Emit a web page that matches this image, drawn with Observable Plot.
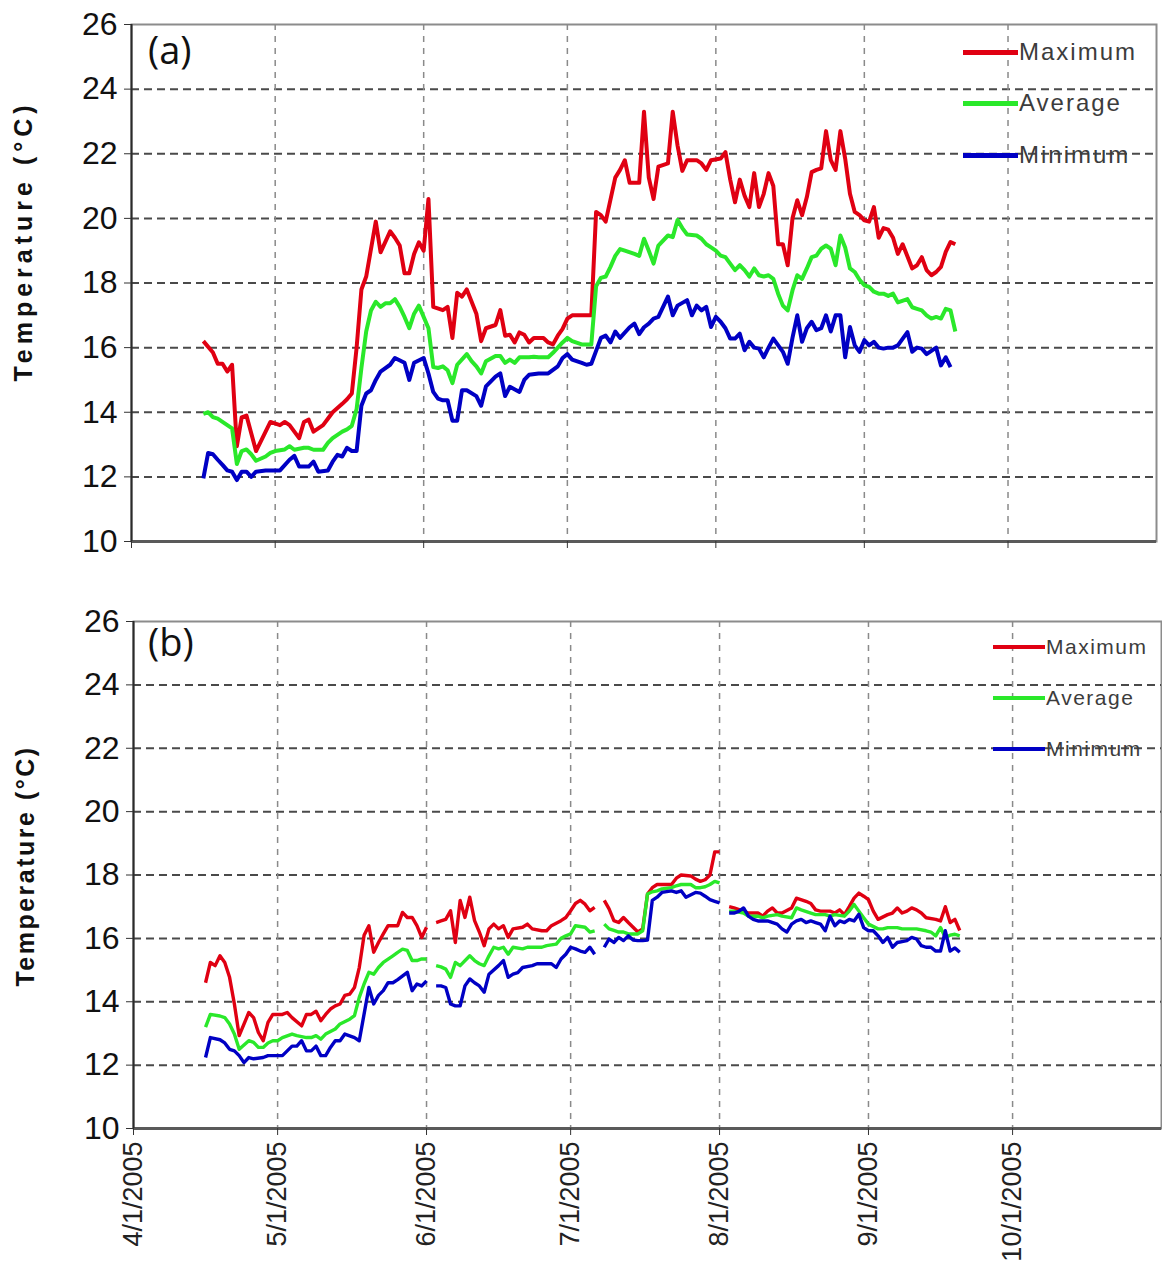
<!DOCTYPE html>
<html>
<head>
<meta charset="utf-8">
<script src="https://cdn.jsdelivr.net/npm/d3@7"></script>
<script src="https://cdn.jsdelivr.net/npm/@observablehq/plot@0.6"></script>
<style>
  html, body { margin: 0; padding: 0; background: #fff; }
  #root { position: relative; width: 1162px; height: 1287px; overflow: hidden; background: #fff; }
  .panel { position: absolute; left: 0; }
  .legend-row { position: absolute; display: flex; align-items: center; white-space: nowrap;
    font-family: "Liberation Sans", Arial, sans-serif; color: #3c3c3c; }
  .swatch { display: inline-block; }
  .tag { position: absolute; font-family: "Open Sans", "Liberation Sans", sans-serif; color: #111; line-height: 1; }
</style>
</head>
<body>
<div id="root"></div>
<script>
// ---------- labels / categories ----------
const seriesNames = ["Maximum", "Average", "Minimum"];
const seriesColors = ["#e00012", "#2ae82a", "#0000c4"];
const yTicks = [10, 12, 14, 16, 18, 20, 22, 24, 26];
const yGrid = [12, 14, 16, 18, 20, 22, 24];
const monthTicks = ["04-01", "05-01", "06-01", "07-01", "08-01", "09-01", "10-01"];
const xEndLabel = "11-01";
const yTitle = "Temperature (°C)";
const panelTags = ["(a)", "(b)"];

// ---------- panel (a) series: [month-day, °C] ----------
const aMax = [["04-16",16.2],["04-18",15.85],["04-19",15.5],["04-20",15.5],["04-21",15.26],["04-22",15.47],["04-23",12.95],["04-24",13.84],["04-25",13.9],["04-27",12.8],["04-29",13.4],["04-30",13.7],["05-02",13.6],["05-03",13.7],["05-04",13.6],["05-06",13.2],["05-07",13.7],["05-08",13.77],["05-09",13.4],["05-11",13.6],["05-12",13.8],["05-13",14.0],["05-15",14.26],["05-16",14.4],["05-17",14.58],["05-18",16.0],["05-19",17.8],["05-20",18.2],["05-22",19.9],["05-23",18.95],["05-25",19.6],["05-26",19.4],["05-27",19.16],["05-28",18.3],["05-29",18.3],["05-30",18.9],["05-31",19.26],["06-01",19.0],["06-02",20.6],["06-03",17.26],["06-05",17.16],["06-06",17.26],["06-07",16.3],["06-08",17.7],["06-09",17.58],["06-10",17.8],["06-12",17.05],["06-13",16.2],["06-14",16.6],["06-16",16.7],["06-17",17.16],["06-18",16.37],["06-19",16.4],["06-20",16.16],["06-21",16.47],["06-22",16.4],["06-23",16.16],["06-24",16.3],["06-26",16.3],["06-27",16.16],["06-28",16.1],["06-29",16.37],["06-30",16.58],["07-01",16.9],["07-02",17.0],["07-04",17.0],["07-06",17.0],["07-07",20.2],["07-08",20.1],["07-09",19.9],["07-11",21.26],["07-12",21.5],["07-13",21.8],["07-14",21.1],["07-15",21.1],["07-16",21.1],["07-17",23.3],["07-18",21.26],["07-19",20.6],["07-20",21.6],["07-22",21.7],["07-23",23.3],["07-24",22.26],["07-25",21.47],["07-26",21.8],["07-28",21.8],["07-29",21.7],["07-30",21.5],["07-31",21.8],["08-02",21.85],["08-03",22.05],["08-04",21.2],["08-05",20.5],["08-06",21.2],["08-07",20.7],["08-08",20.35],["08-09",21.4],["08-10",20.35],["08-11",20.76],["08-12",21.4],["08-13",21.0],["08-14",19.2],["08-15",19.2],["08-16",18.55],["08-17",20.0],["08-18",20.56],["08-19",20.1],["08-20",20.66],["08-21",21.43],["08-22",21.5],["08-23",21.55],["08-24",22.7],["08-25",21.8],["08-26",21.5],["08-27",22.7],["08-28",21.85],["08-29",20.76],["08-30",20.2],["08-31",20.1],["09-01",19.94],["09-02",19.9],["09-03",20.35],["09-04",19.4],["09-05",19.7],["09-06",19.65],["09-07",19.4],["09-08",18.9],["09-09",19.2],["09-11",18.45],["09-12",18.55],["09-13",18.8],["09-14",18.4],["09-15",18.24],["09-16",18.34],["09-17",18.5],["09-18",18.96],["09-19",19.27],["09-20",19.2]];

const aAvg = [["04-16",13.95],["04-17",14.0],["04-18",13.85],["04-19",13.8],["04-20",13.7],["04-21",13.6],["04-22",13.5],["04-23",12.4],["04-24",12.8],["04-25",12.85],["04-26",12.7],["04-27",12.5],["04-29",12.63],["04-30",12.74],["05-01",12.8],["05-03",12.85],["05-04",12.95],["05-05",12.84],["05-07",12.9],["05-08",12.9],["05-09",12.84],["05-11",12.84],["05-12",13.05],["05-13",13.2],["05-15",13.4],["05-16",13.47],["05-17",13.58],["05-18",14.1],["05-19",15.37],["05-20",16.5],["05-21",17.15],["05-22",17.42],["05-23",17.26],["05-24",17.37],["05-25",17.37],["05-26",17.5],["05-27",17.26],["05-28",16.95],["05-29",16.6],["05-30",17.05],["05-31",17.3],["06-02",16.6],["06-03",15.4],["06-04",15.37],["06-05",15.42],["06-06",15.3],["06-07",14.9],["06-08",15.47],["06-10",15.8],["06-11",15.58],["06-12",15.42],["06-13",15.2],["06-14",15.58],["06-16",15.74],["06-17",15.74],["06-18",15.53],["06-19",15.63],["06-20",15.53],["06-21",15.7],["06-23",15.7],["06-24",15.72],["06-25",15.7],["06-27",15.7],["06-28",15.84],["06-30",16.16],["07-01",16.3],["07-02",16.2],["07-04",16.1],["07-05",16.1],["07-06",16.1],["07-07",17.9],["07-08",18.16],["07-09",18.2],["07-10",18.5],["07-11",18.84],["07-12",19.05],["07-13",19.0],["07-15",18.9],["07-16",18.84],["07-17",19.37],["07-18",19.0],["07-19",18.6],["07-20",19.16],["07-22",19.47],["07-23",19.42],["07-24",19.95],["07-25",19.7],["07-26",19.5],["07-28",19.47],["07-29",19.37],["07-30",19.2],["07-31",19.1],["08-01",19.0],["08-02",18.85],["08-03",18.8],["08-04",18.6],["08-05",18.4],["08-06",18.55],["08-07",18.4],["08-08",18.2],["08-09",18.45],["08-10",18.24],["08-11",18.2],["08-12",18.24],["08-13",18.13],["08-14",17.67],["08-15",17.3],["08-16",17.15],["08-17",17.77],["08-18",18.24],["08-19",18.13],["08-20",18.45],["08-21",18.8],["08-22",18.85],["08-23",19.06],["08-24",19.16],["08-25",19.06],["08-26",18.55],["08-27",19.47],["08-28",19.1],["08-29",18.45],["08-30",18.34],["08-31",18.1],["09-01",17.93],["09-02",17.88],["09-03",17.73],["09-04",17.67],["09-05",17.67],["09-06",17.6],["09-07",17.67],["09-08",17.4],["09-10",17.5],["09-11",17.25],["09-12",17.2],["09-13",17.15],["09-14",17.0],["09-15",16.9],["09-16",16.95],["09-17",16.9],["09-18",17.2],["09-19",17.15],["09-20",16.5]];

const aMin = [["04-16",11.95],["04-17",12.74],["04-18",12.7],["04-19",12.53],["04-20",12.37],["04-21",12.2],["04-22",12.16],["04-23",11.9],["04-24",12.16],["04-25",12.16],["04-26",12.0],["04-27",12.16],["04-29",12.2],["04-30",12.2],["05-01",12.2],["05-02",12.2],["05-04",12.53],["05-05",12.65],["05-06",12.32],["05-08",12.32],["05-09",12.47],["05-10",12.16],["05-12",12.2],["05-13",12.47],["05-14",12.68],["05-15",12.63],["05-16",12.9],["05-17",12.8],["05-18",12.8],["05-19",14.2],["05-20",14.58],["05-21",14.68],["05-22",15.0],["05-23",15.26],["05-25",15.47],["05-26",15.68],["05-28",15.53],["05-29",15.0],["05-30",15.53],["06-01",15.68],["06-02",15.2],["06-03",14.63],["06-04",14.42],["06-05",14.37],["06-06",14.37],["06-07",13.74],["06-08",13.74],["06-09",14.68],["06-10",14.68],["06-12",14.5],["06-13",14.2],["06-14",14.8],["06-16",15.1],["06-17",15.2],["06-18",14.5],["06-19",14.79],["06-21",14.63],["06-22",15.0],["06-23",15.16],["06-25",15.2],["06-26",15.2],["06-27",15.2],["06-29",15.42],["06-30",15.68],["07-01",15.8],["07-02",15.63],["07-04",15.53],["07-05",15.47],["07-06",15.5],["07-07",15.9],["07-08",16.3],["07-09",16.37],["07-10",16.16],["07-11",16.5],["07-12",16.3],["07-14",16.63],["07-15",16.74],["07-16",16.42],["07-17",16.63],["07-18",16.74],["07-19",16.9],["07-20",16.95],["07-22",17.58],["07-23",17.0],["07-24",17.3],["07-26",17.47],["07-27",17.0],["07-28",17.3],["07-29",17.15],["07-30",17.26],["07-31",16.64],["08-01",16.95],["08-02",16.8],["08-03",16.6],["08-04",16.28],["08-05",16.28],["08-06",16.43],["08-07",15.92],["08-08",16.18],["08-09",16.0],["08-10",15.97],["08-11",15.7],["08-12",16.0],["08-13",16.28],["08-15",15.87],["08-16",15.5],["08-17",16.3],["08-18",17.0],["08-19",16.18],["08-20",16.6],["08-21",16.8],["08-22",16.54],["08-23",16.6],["08-24",17.0],["08-25",16.5],["08-26",17.0],["08-27",17.0],["08-28",15.7],["08-29",16.64],["08-30",16.07],["08-31",15.87],["09-01",16.23],["09-02",16.07],["09-03",16.18],["09-04",16.0],["09-05",15.97],["09-06",16.0],["09-07",16.0],["09-08",16.07],["09-10",16.48],["09-11",15.87],["09-12",16.0],["09-13",15.97],["09-14",15.8],["09-15",15.9],["09-16",16.0],["09-17",15.45],["09-18",15.7],["09-19",15.4]];

// ---------- panel (b) series (null = no data) ----------
const bMax = [["04-16",14.6],["04-17",15.24],["04-18",15.14],["04-19",15.45],["04-20",15.24],["04-21",14.77],["04-22",13.93],["04-23",12.93],["04-25",13.66],["04-26",13.5],["04-27",13.03],["04-28",12.77],["04-29",13.35],["04-30",13.6],["05-01",13.6],["05-02",13.6],["05-03",13.66],["05-04",13.5],["05-06",13.24],["05-07",13.6],["05-08",13.6],["05-09",13.7],["05-10",13.4],["05-11",13.6],["05-12",13.77],["05-13",13.87],["05-14",13.93],["05-15",14.2],["05-16",14.24],["05-17",14.45],["05-18",15.08],["05-19",16.1],["05-20",16.4],["05-21",15.56],["05-22",15.87],["05-23",16.14],["05-24",16.4],["05-26",16.4],["05-27",16.82],["05-28",16.66],["05-29",16.66],["05-30",16.4],["05-31",16.03],["06-01",16.35],["06-02",null],["06-03",16.5],["06-04",16.55],["06-05",16.6],["06-06",16.87],["06-07",15.87],["06-08",17.2],["06-09",16.66],["06-10",17.3],["06-11",16.56],["06-12",16.2],["06-13",15.77],["06-14",16.3],["06-15",16.45],["06-16",16.3],["06-17",16.4],["06-18",16.03],["06-19",16.3],["06-21",16.35],["06-22",16.45],["06-23",16.3],["06-25",16.24],["06-26",16.24],["06-27",16.4],["06-29",16.56],["06-30",16.66],["07-01",16.87],["07-02",17.1],["07-03",17.2],["07-04",17.08],["07-05",16.87],["07-06",16.98],["07-07",null],["07-08",17.2],["07-09",16.93],["07-10",16.56],["07-11",16.5],["07-12",16.66],["07-13",16.5],["07-14",16.35],["07-15",16.2],["07-16",16.3],["07-17",17.4],["07-18",17.6],["07-19",17.7],["07-21",17.7],["07-22",17.7],["07-23",17.9],["07-24",18.0],["07-26",17.97],["07-27",17.87],["07-28",17.8],["07-29",17.85],["07-30",18.0],["07-31",18.73],["08-01",18.73],["08-02",null],["08-03",17.0],["08-04",16.96],["08-06",16.86],["08-07",16.8],["08-09",16.8],["08-10",16.7],["08-11",16.86],["08-12",16.96],["08-13",16.8],["08-14",16.8],["08-16",16.96],["08-17",17.27],["08-19",17.17],["08-20",17.1],["08-21",16.9],["08-22",16.86],["08-24",16.86],["08-25",16.8],["08-26",16.9],["08-27",16.75],["08-28",17.0],["08-29",17.27],["08-30",17.43],["08-31",17.33],["09-01",17.22],["09-02",16.86],["09-03",16.6],["09-05",16.75],["09-06",16.8],["09-07",16.96],["09-08",16.8],["09-09",16.86],["09-10",16.96],["09-11",16.9],["09-12",16.8],["09-13",16.65],["09-15",16.6],["09-16",16.55],["09-17",17.0],["09-18",16.5],["09-19",16.6],["09-20",16.25]];

const bAvg = [["04-16",13.2],["04-17",13.6],["04-19",13.55],["04-20",13.5],["04-21",13.3],["04-22",12.98],["04-23",12.5],["04-25",12.77],["04-26",12.72],["04-27",12.56],["04-28",12.56],["04-29",12.7],["04-30",12.77],["05-01",12.77],["05-02",12.87],["05-04",12.98],["05-05",12.93],["05-07",12.87],["05-08",12.87],["05-09",12.93],["05-10",12.82],["05-11",12.98],["05-13",13.14],["05-14",13.3],["05-16",13.45],["05-17",13.56],["05-18",14.14],["05-19",14.56],["05-20",14.93],["05-21",14.87],["05-22",15.08],["05-23",15.24],["05-25",15.45],["05-26",15.56],["05-27",15.66],["05-28",15.62],["05-29",15.3],["05-30",15.3],["05-31",15.35],["06-01",15.35],["06-02",null],["06-03",15.14],["06-04",15.1],["06-05",15.03],["06-06",14.77],["06-07",15.24],["06-08",15.14],["06-10",15.45],["06-11",15.3],["06-12",15.2],["06-13",15.14],["06-14",15.45],["06-15",15.72],["06-16",15.67],["06-17",15.72],["06-18",15.5],["06-19",15.72],["06-21",15.67],["06-22",15.72],["06-24",15.72],["06-25",15.72],["06-26",15.77],["06-28",15.82],["06-29",16.0],["06-30",16.08],["07-01",16.14],["07-02",16.4],["07-04",16.35],["07-05",16.2],["07-06",16.24],["07-07",null],["07-08",16.45],["07-09",16.3],["07-10",16.25],["07-11",16.2],["07-12",16.2],["07-13",16.14],["07-15",16.14],["07-16",16.24],["07-17",17.4],["07-18",17.47],["07-19",17.5],["07-20",17.56],["07-22",17.6],["07-23",17.66],["07-24",17.7],["07-26",17.7],["07-27",17.6],["07-28",17.6],["07-29",17.63],["07-30",17.7],["07-31",17.8],["08-01",17.75],["08-02",null],["08-03",16.86],["08-04",16.86],["08-06",16.8],["08-07",16.7],["08-09",16.7],["08-10",16.65],["08-11",16.7],["08-13",16.75],["08-14",16.7],["08-16",16.65],["08-17",16.96],["08-18",16.9],["08-20",16.8],["08-21",16.75],["08-23",16.75],["08-24",16.7],["08-25",16.75],["08-27",16.7],["08-28",16.86],["08-29",17.07],["08-30",16.86],["08-31",16.65],["09-01",16.45],["09-03",16.3],["09-04",16.3],["09-05",16.34],["09-07",16.34],["09-08",16.3],["09-10",16.3],["09-11",16.3],["09-13",16.24],["09-14",16.2],["09-15",16.08],["09-16",16.34],["09-17",16.03],["09-18",16.1],["09-19",16.13],["09-20",16.08]];

const bMin = [["04-16",12.24],["04-17",12.87],["04-19",12.8],["04-20",12.7],["04-21",12.5],["04-22",12.45],["04-23",12.3],["04-24",12.08],["04-25",12.24],["04-26",12.2],["04-28",12.24],["04-29",12.3],["04-30",12.3],["05-02",12.3],["05-03",12.45],["05-04",12.6],["05-05",12.6],["05-06",12.77],["05-07",12.45],["05-08",12.45],["05-09",12.6],["05-10",12.3],["05-11",12.3],["05-12",12.56],["05-13",12.77],["05-14",12.77],["05-15",12.98],["05-17",12.87],["05-18",12.77],["05-20",14.45],["05-21",13.93],["05-22",14.2],["05-23",14.35],["05-24",14.6],["05-25",14.6],["05-26",14.7],["05-28",14.93],["05-29",14.35],["05-30",14.56],["05-31",14.5],["06-01",14.66],["06-02",null],["06-03",14.5],["06-04",14.5],["06-05",14.45],["06-06",13.93],["06-07",13.87],["06-08",13.87],["06-09",14.5],["06-10",14.72],["06-11",14.6],["06-12",14.5],["06-13",14.3],["06-14",14.87],["06-16",15.14],["06-17",15.3],["06-18",14.77],["06-19",14.87],["06-20",14.92],["06-21",15.08],["06-23",15.14],["06-24",15.2],["06-26",15.2],["06-27",15.2],["06-28",15.08],["06-29",15.35],["06-30",15.5],["07-01",15.72],["07-02",15.67],["07-03",15.6],["07-04",15.56],["07-05",15.72],["07-06",15.5],["07-07",null],["07-08",15.72],["07-09",15.98],["07-10",15.87],["07-11",16.03],["07-12",15.93],["07-13",16.08],["07-14",15.95],["07-15",15.93],["07-16",15.93],["07-17",15.95],["07-18",17.2],["07-19",17.3],["07-20",17.45],["07-22",17.5],["07-23",17.45],["07-24",17.5],["07-25",17.3],["07-27",17.45],["07-28",17.43],["07-29",17.33],["07-30",17.22],["07-31",17.17],["08-01",17.12],["08-02",null],["08-03",16.8],["08-04",16.8],["08-05",16.85],["08-06",16.96],["08-07",16.7],["08-08",16.6],["08-09",16.55],["08-10",16.55],["08-11",16.55],["08-13",16.45],["08-14",16.3],["08-15",16.2],["08-16",16.45],["08-17",16.55],["08-18",16.6],["08-19",16.5],["08-20",16.55],["08-21",16.5],["08-22",16.45],["08-23",16.24],["08-24",16.7],["08-25",16.4],["08-26",16.55],["08-27",16.5],["08-28",16.6],["08-29",16.55],["08-30",16.76],["08-31",16.34],["09-01",16.24],["09-02",16.24],["09-03",16.08],["09-04",15.87],["09-05",16.03],["09-06",15.72],["09-07",15.87],["09-08",15.9],["09-09",15.93],["09-10",16.03],["09-11",15.98],["09-12",15.77],["09-13",15.72],["09-14",15.72],["09-15",15.6],["09-16",15.6],["09-17",16.24],["09-18",15.6],["09-19",15.7],["09-20",15.56]];

// ---------- helpers ----------
const YEAR = 2005;
const toDate = md => { const [m, d] = md.split("-").map(Number); return new Date(Date.UTC(YEAR, m - 1, d)); };
const fmtDate = d => `${d.getUTCMonth() + 1}/${d.getUTCDate()}/${d.getUTCFullYear()}`;
const monthDates = monthTicks.map(toDate);
const xDomain = [toDate(monthTicks[0]), toDate(xEndLabel)];
const rows = (arrs) => arrs.flatMap((arr, i) =>
  arr.map(([md, v]) => ({date: toDate(md), value: v, series: seriesNames[i]})));

const tickFont = '"Liberation Sans Narrow", "Arial Narrow", "Liberation Sans", Arial, sans-serif';
const plainFont = '"Liberation Sans", Arial, sans-serif';

function panel({data, height, marginTop, marginBottom, marginLeft, marginRight, lineWidth, showDates, titleDy, titleSpacing}) {
  const svg = Plot.plot({
    width: 1162, height, marginTop, marginBottom, marginLeft, marginRight,
    style: {background: "transparent", overflow: "visible"},
    x: {type: "utc", domain: xDomain},
    y: {domain: [10, 26]},
    color: {domain: seriesNames, range: seriesColors},
    marks: [
      Plot.frame({stroke: "#8c8c8c", strokeWidth: 2}),
      Plot.ruleY(yGrid, {stroke: "#4a4a4a", strokeWidth: 2, strokeDasharray: "8,5"}),
      Plot.ruleX(monthDates.slice(1), {stroke: "#8a8a8a", strokeWidth: 1.5, strokeDasharray: "6,6"}),
      Plot.line(data, {x: "date", y: "value", z: "series", stroke: "series",
        strokeWidth: lineWidth, strokeLinejoin: "round", strokeLinecap: "butt"}),
      Plot.ruleY([10], {stroke: "#5a5a5a", strokeWidth: 3}),
      Plot.ruleX([xDomain[0]], {stroke: "#2a2a2a", strokeWidth: 2}),
      Plot.axisY({ticks: yTicks, tickSize: 7, tickPadding: 7, stroke: "#333", fill: "#111",
        fontSize: 32, fontFamily: tickFont, label: null}),
      showDates
        ? Plot.axisX({ticks: monthDates, tickFormat: fmtDate, tickRotate: -90, tickSize: 7, tickPadding: 6,
            stroke: "#333", fill: "#222", fontSize: 27, fontFamily: plainFont, label: null})
        : Plot.axisX({ticks: monthDates, tickFormat: () => "", tickSize: 7, stroke: "#333", label: null}),
      Plot.text([yTitle], {frameAnchor: "left", textAnchor: "middle", dx: -108, dy: titleDy, rotate: -90,
        fontWeight: "bold", fontSize: 25, fontFamily: plainFont, fill: "#111"})
    ]
  });
  d3.select(svg).selectAll("text").filter(function() { return this.textContent === yTitle; })
    .attr("letter-spacing", titleSpacing);
  return svg;
}

const root = document.getElementById("root");

const svgA = panel({data: rows([aMax, aAvg, aMin]), height: 565, marginTop: 24, marginBottom: 24,
  marginLeft: 131, marginRight: 6, lineWidth: 4, showDates: false, titleDy: -42, titleSpacing: 5});
svgA.classList.add("panel"); svgA.style.top = "0px";
root.appendChild(svgA);

const svgB = panel({data: rows([bMax, bAvg, bMin]), height: 722, marginTop: 56, marginBottom: 159,
  marginLeft: 133, marginRight: 1, lineWidth: 3.4, showDates: true, titleDy: -9, titleSpacing: 2.5});
svgB.classList.add("panel"); svgB.style.top = "565px";
root.appendChild(svgB);

// legends (HTML overlay)
function legend({x, ys, lineW, lineH, fontSize, spacing}) {
  seriesNames.forEach((name, i) => {
    const row = document.createElement("div");
    row.className = "legend-row";
    row.style.left = x + "px";
    row.style.top = (ys[i] - 20) + "px";
    row.style.height = "40px";
    const sw = document.createElement("span");
    sw.className = "swatch";
    sw.style.width = lineW + "px"; sw.style.height = lineH + "px"; sw.style.background = seriesColors[i];
    const tx = document.createElement("span");
    tx.textContent = name;
    tx.style.fontSize = fontSize + "px";
    tx.style.letterSpacing = spacing + "px";
    tx.style.marginLeft = "1px";
    row.appendChild(sw); row.appendChild(tx);
    root.appendChild(row);
  });
}
legend({x: 963, ys: [52, 103, 155], lineW: 55, lineH: 5, fontSize: 24, spacing: 2});
legend({x: 993, ys: [647, 698, 749], lineW: 52, lineH: 3.5, fontSize: 21, spacing: 1.5});

// panel tags
[[panelTags[0], 148, 30], [panelTags[1], 148, 622]].forEach(([t, x, y]) => {
  const d = document.createElement("div");
  d.className = "tag"; d.textContent = t;
  d.style.left = x + "px"; d.style.top = y + "px"; d.style.fontSize = "38px";
  root.appendChild(d);
});
</script>
</body>
</html>
